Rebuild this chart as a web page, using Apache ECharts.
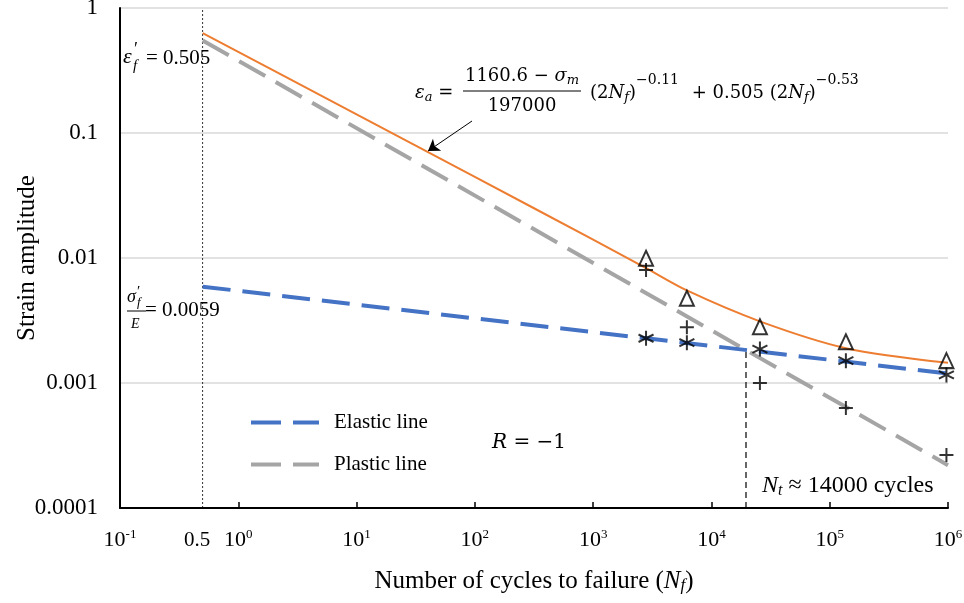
<!DOCTYPE html>
<html>
<head>
<meta charset="utf-8">
<script src="https://cdn.jsdelivr.net/npm/echarts@6/dist/echarts.min.js"></script>
<style>
html,body{margin:0;padding:0;background:#fff;}
#main{width:964px;height:603px;}
</style>
</head>
<body>
<div id="main"></div>
<script>
// 坐标轴范围（对数）
var xRange = [0.1, 1000000];
var yRange = [0.0001, 1];

// 弹性线 / 塑性线 （两端点，对数坐标下为直线）
var lineN = [0.5, 1000000];
var elasticEps = [0.0059, 0.00119];
var plasticEps = [0.55, 0.00022];

// 总应变曲线
var totalN = [0.5, 10, 100, 1000, 2800, 6200, 26000, 137000, 1000000];
var totalEps = [0.63, 0.141, 0.0446, 0.0140, 0.0083, 0.0055, 0.0031, 0.0019, 0.00145];

// 试验点
var testN = [2800, 6200, 25700, 137000, 970000];
var triEps = [0.00995, 0.00476, 0.00282, 0.00214, 0.00151];
var starEps = [0.00228, 0.0021, 0.00187, 0.00151, 0.00116];
var plusEps = [0.00802, 0.00279, 0.001, 0.00063, 0.000265];

// 转变寿命 & 0.5 参考线
var ntN = 19600;
var ntEps = 0.00183;
var halfN = 0.5;

var serif = 'Liberation Serif';
var math = 'DejaVu Serif';

function pairs(xs, ys) {
	var out = [];
	for (var i = 0; i < xs.length; i++) {
		out.push([xs[i], ys[i]]);
	}
	return out;
}

var starPath = 'path://M5,0L5,10M0.7,2.5L9.3,7.5M0.7,7.5L9.3,2.5';
var plusPath = 'path://M5,0L5,10M0,5L10,5';
var dashIcon = 'path://M0,0H30V4H0Z M42,0H68V4H42Z';

var mathRich = {
	i: { fontFamily: math, fontSize: 18, fontStyle: 'italic', fill: '#000' },
	is: { fontFamily: math, fontSize: 13, fontStyle: 'italic', fill: '#000', padding: [10, 0, 0, 0] },
	n: { fontFamily: math, fontSize: 18, fill: '#000' },
	g: { width: 7 },
	sup: { fontFamily: math, fontSize: 14, fill: '#000', padding: [0, 0, 25, 0] }
};

var main = document.getElementById('main');
var chart = echarts.init(main);

var option = {
	animation: false,
	backgroundColor: '#fff',
	grid: { left: 120, right: 16, top: 8, bottom: 95, outerBoundsMode: 'none', containLabel: false },
	legend: {
		data: [
			{ name: 'Elastic line', icon: dashIcon },
			{ name: 'Plastic line', icon: dashIcon }
		],
		orient: 'vertical',
		left: 246,
		top: 407,
		itemWidth: 68,
		itemHeight: 4,
		itemGap: 21,
		selectedMode: false,
		textStyle: { fontFamily: serif, fontSize: 21, color: '#000', padding: [0, 0, 0, 10] }
	},
	xAxis: {
		type: 'log',
		logBase: 10,
		min: xRange[0],
		max: xRange[1],
		splitNumber: 7,
		axisLine: { lineStyle: { color: '#000', width: 2 } },
		axisTick: { inside: true, length: 6, lineStyle: { color: '#000', width: 1.5 } },
		splitLine: { show: false },
		axisLabel: {
			margin: 20,
			formatter: function (v) {
				var e = Math.round(Math.log10(v));
				return '{b|10}{s|' + e + '}';
			},
			rich: {
				b: { fontFamily: serif, fontSize: 22, color: '#000' },
				s: { fontFamily: serif, fontSize: 13, color: '#000', padding: [0, 0, 12, 0] }
			}
		},
		name: '{t|Number of cycles to failure (}{i|N}{sub|f}{t|)}',
		nameLocation: 'middle',
		nameGap: 60,
		nameMoveOverlap: false,
		nameTextStyle: {
			rich: {
				t: { fontFamily: serif, fontSize: 25, color: '#000' },
				i: { fontFamily: serif, fontSize: 25, fontStyle: 'italic', color: '#000' },
				sub: { fontFamily: serif, fontSize: 17, fontStyle: 'italic', color: '#000', padding: [9, 0, 0, 0] }
			}
		}
	},
	yAxis: {
		type: 'log',
		logBase: 10,
		min: yRange[0],
		max: yRange[1],
		axisLine: { show: true, lineStyle: { color: '#000', width: 2 } },
		axisTick: { show: false },
		splitLine: { show: true, lineStyle: { color: '#D9D9D9', width: 1.5 } },
		axisLabel: {
			margin: 22,
			fontFamily: serif,
			fontSize: 23,
			color: '#000',
			formatter: function (v) {
				return String(Number(v.toPrecision(1)));
			}
		},
		name: 'Strain amplitude',
		nameLocation: 'middle',
		nameGap: 80,
		nameMoveOverlap: false,
		nameTextStyle: { fontFamily: serif, fontSize: 25, color: '#000' }
	},
	series: [
		{
			name: 'ref0.5',
			type: 'line',
			data: [[halfN, yRange[0]], [halfN, yRange[1]]],
			symbol: 'none',
			silent: true,
			lineStyle: { color: '#000', width: 0.8, type: [2, 2] },
			z: 1
		},
		{
			name: 'Nt',
			type: 'line',
			data: [[ntN, yRange[0]], [ntN, ntEps]],
			symbol: 'none',
			silent: true,
			lineStyle: { color: '#000', width: 1.2, type: [6, 4] },
			z: 1
		},
		{
			name: 'Elastic line',
			type: 'line',
			data: pairs(lineN, elasticEps),
			symbol: 'none',
			lineStyle: { color: '#4472C4', width: 4, type: [28, 12] },
			itemStyle: { color: '#4472C4' },
			z: 3
		},
		{
			name: 'Plastic line',
			type: 'line',
			data: pairs(lineN, plasticEps),
			symbol: 'none',
			lineStyle: { color: '#A5A5A5', width: 4, type: [30, 12] },
			itemStyle: { color: '#A5A5A5' },
			z: 2
		},
		{
			name: 'Total',
			type: 'line',
			data: pairs(totalN, totalEps),
			symbol: 'none',
			smooth: 0.3,
			lineStyle: { color: '#ED7D31', width: 2 },
			z: 4,
			markLine: {
				silent: true,
				symbol: ['none', 'arrow'],
				symbolSize: 11,
				label: { show: false },
				lineStyle: { color: '#000', width: 1, type: 'solid' },
				data: [[{ x: 472, y: 121 }, { x: 428, y: 151 }]]
			}
		},
		{
			name: 'tri',
			type: 'scatter',
			data: pairs(testN, triEps),
			symbol: 'triangle',
			symbolSize: [14, 15],
			itemStyle: { color: 'rgba(0,0,0,0)', borderColor: '#000', borderWidth: 2 },
			z: 6
		},
		{
			name: 'star',
			type: 'scatter',
			data: pairs(testN, starEps),
			symbol: starPath,
			symbolSize: [15, 15],
			itemStyle: { color: 'rgba(0,0,0,0)', borderColor: '#000', borderWidth: 2 },
			z: 6
		},
		{
			name: 'plus',
			type: 'scatter',
			data: pairs(testN, plusEps),
			symbol: plusPath,
			symbolSize: [14, 14],
			itemStyle: { color: 'rgba(0,0,0,0)', borderColor: '#000', borderWidth: 2 },
			z: 6
		}
	],
	graphic: [
		// ε'f = 0.505
		{ type: 'text', x: 123, y: 57, style: { text: 'ε', fontFamily: serif, fontSize: 22, fontStyle: 'italic', fill: '#000', textVerticalAlign: 'middle' } },
		{ type: 'text', x: 134, y: 50, style: { text: '′', fontFamily: serif, fontSize: 18, fill: '#000', textVerticalAlign: 'middle' } },
		{ type: 'text', x: 133, y: 66, style: { text: 'f', fontFamily: serif, fontSize: 15, fontStyle: 'italic', fill: '#000', textVerticalAlign: 'middle' } },
		{ type: 'text', x: 146, y: 58, style: { text: '= 0.505', fontFamily: serif, fontSize: 21, fill: '#000', textVerticalAlign: 'middle' } },
		// σ'f / E = 0.0059
		{ type: 'text', x: 127, y: 297, style: { text: 'σ', fontFamily: serif, fontSize: 18, fontStyle: 'italic', fill: '#000', textVerticalAlign: 'middle' } },
		{ type: 'text', x: 137, y: 292, style: { text: '′', fontFamily: serif, fontSize: 15, fill: '#000', textVerticalAlign: 'middle' } },
		{ type: 'text', x: 137, y: 303, style: { text: 'f', fontFamily: serif, fontSize: 13, fontStyle: 'italic', fill: '#000', textVerticalAlign: 'middle' } },
		{ type: 'line', shape: { x1: 127, y1: 311, x2: 146, y2: 311 }, style: { stroke: '#000', lineWidth: 1 } },
		{ type: 'text', x: 131, y: 324, style: { text: 'E', fontFamily: serif, fontSize: 14, fontStyle: 'italic', fill: '#000', textVerticalAlign: 'middle' } },
		{ type: 'text', x: 145, y: 310, style: { text: '= 0.0059', fontFamily: serif, fontSize: 21, fill: '#000', textVerticalAlign: 'middle' } },
		// 公式
		{ type: 'text', x: 415, y: 93, style: { text: '{i|ε}{is|a}{n| =}', textVerticalAlign: 'middle', rich: mathRich } },
		{ type: 'text', x: 522, y: 76, style: { text: '{n|1160.6 − }{i|σ}{is|m}', textAlign: 'center', textVerticalAlign: 'middle', rich: mathRich } },
		{ type: 'line', shape: { x1: 463, y1: 91, x2: 581, y2: 91 }, style: { stroke: '#000', lineWidth: 1 } },
		{ type: 'text', x: 522, y: 106, style: { text: '197000', fontFamily: math, fontSize: 18, fill: '#000', textAlign: 'center', textVerticalAlign: 'middle' } },
		{ type: 'text', x: 590, y: 93, style: {
			text: '{n|(2}{i|N}{is|f}{n|)}{sup|−0.11}{g|}{n| + 0.505 (2}{i|N}{is|f}{n|)}{sup|−0.53}',
			textVerticalAlign: 'middle',
			rich: mathRich
		} },
		// R = -1
		{ type: 'text', x: 492, y: 443, style: {
			text: '{i|R}{n| = −1}', textVerticalAlign: 'middle',
			rich: {
				i: { fontFamily: math, fontSize: 20, fontStyle: 'italic', fill: '#000' },
				n: { fontFamily: math, fontSize: 20, fill: '#000' }
			}
		} },
		// Nt ≈ 14000 cycles
		{ type: 'text', x: 762, y: 486, style: {
			text: '{i|N}{is|t}{n| ≈ 14000 cycles}', textVerticalAlign: 'middle',
			rich: {
				i: { fontFamily: serif, fontSize: 24, fontStyle: 'italic', fill: '#000' },
				is: { fontFamily: serif, fontSize: 16, fontStyle: 'italic', fill: '#000', padding: [10, 0, 0, 0] },
				n: { fontFamily: serif, fontSize: 24, fill: '#000' }
			}
		} },
		// 0.5 标签
		{ type: 'text', x: 197, y: 540, style: { text: '0.5', fontFamily: serif, fontSize: 21, fill: '#000', textAlign: 'center', textVerticalAlign: 'middle' } }
	]
};

chart.setOption(option);
</script>
</body>
</html>
